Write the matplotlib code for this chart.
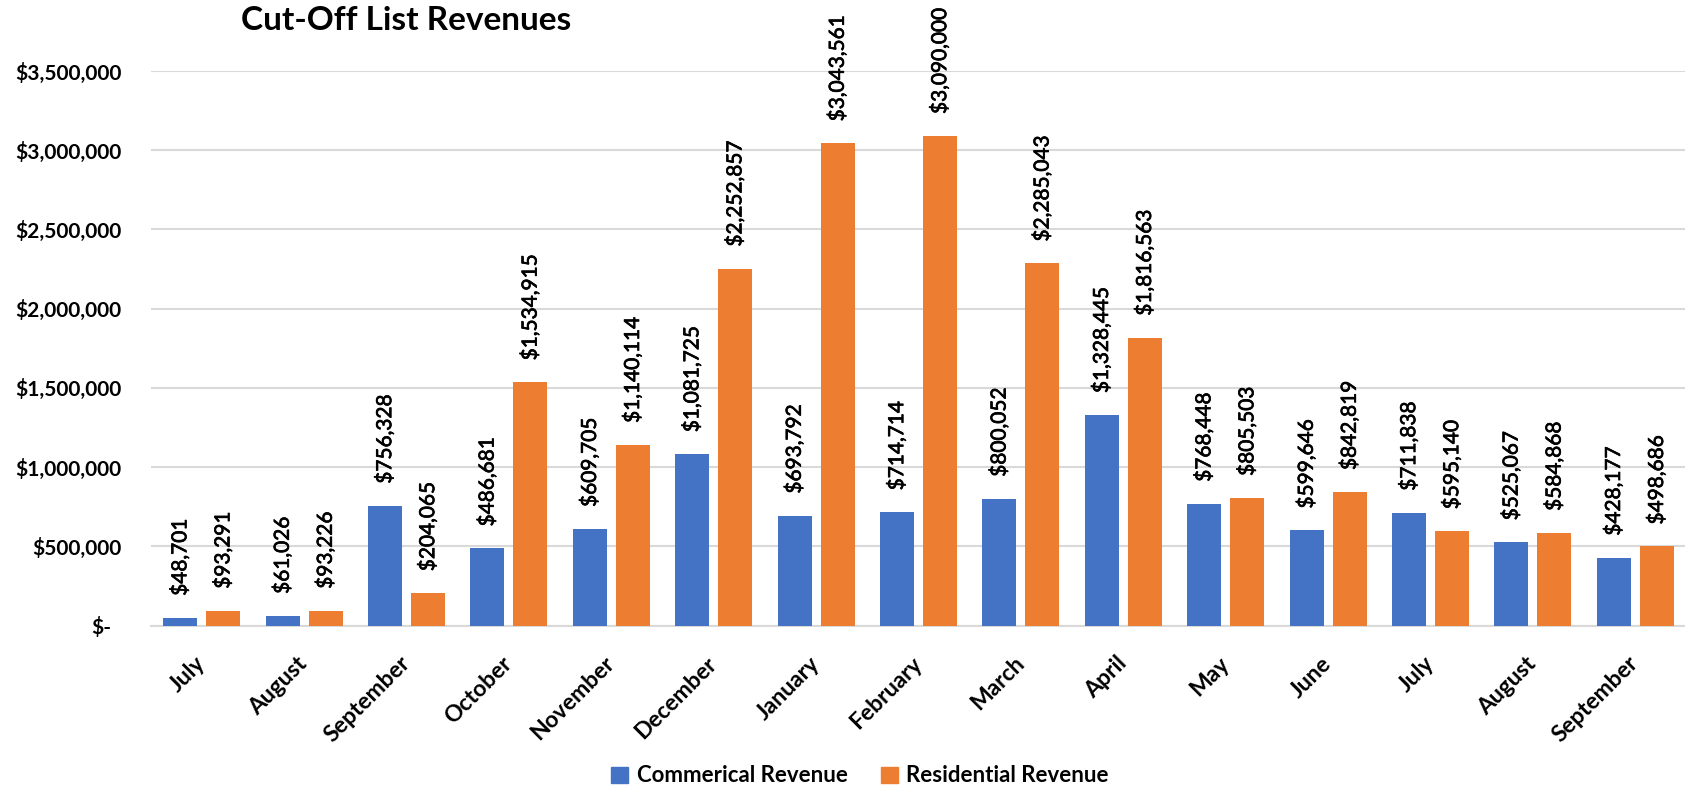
import matplotlib
matplotlib.use("Agg")
import matplotlib.pyplot as plt
import matplotlib.patheffects as pe
import numpy as np
from matplotlib.transforms import ScaledTranslation
from matplotlib.patches import Patch

plt.rcParams['font.family'] = ['Lato', 'DejaVu Sans']

months = ["July", "August", "September", "October", "November", "December",
          "January", "February", "March", "April", "May", "June",
          "July", "August", "September"]
commercial = [48701, 61026, 756328, 486681, 609705, 1081725, 693792, 714714,
              800052, 1328445, 768448, 599646, 711838, 525067, 428177]
residential = [93291, 93226, 204065, 1534915, 1140114, 2252857, 3043561, 3090000,
               2285043, 1816563, 805503, 842819, 595140, 584868, 498686]
y_ticks = [0, 500000, 1000000, 1500000, 2000000, 2500000, 3000000, 3500000]

BLUE = "#4472C4"
ORANGE = "#ED7D31"
GRID = "#D9D9D9"

W, H = 1685, 793
fig = plt.figure(figsize=(W / 100, H / 100), dpi=100)
left, right, top, bottom = 150.5, 1685, 71, 625.5
ax = fig.add_axes([left / W, 1 - bottom / H, (right - left) / W, (bottom - top) / H])

x = np.arange(len(months))
bw = 0.332
off = 0.21
b1 = ax.bar(x - off, commercial, bw, color=BLUE, zorder=3)
b2 = ax.bar(x + off, residential, bw, color=ORANGE, zorder=3)

ax.set_xlim(-0.5, 14.5 - 1.5 / 102.4)
ax.set_ylim(0, 3500000)

# value labels above each bar, running upward
heavier = [pe.withStroke(linewidth=0.5, foreground="black")]
for bars, vals in ((b1, commercial), (b2, residential)):
    for rect, v in zip(bars, vals):
        ax.annotate(f"${v:,.0f}", (rect.get_x() + rect.get_width() / 2, v),
                    xytext=(0, 15.8), textcoords="offset points",
                    rotation=90, ha="center", va="bottom",
                    fontsize=15, color="black", zorder=4,
                    path_effects=heavier)

ax.set_yticks(y_ticks)
ax.set_yticklabels(["$-" if v == 0 else f"${v:,.0f}" for v in y_ticks],
                   fontsize=15, fontweight="bold")
ax.tick_params(axis="y", length=0, pad=20.7)
ylabels = ax.get_yticklabels()
ylabels[0].set_transform(ylabels[0].get_transform()
                         + ScaledTranslation(-0.10, 0, fig.dpi_scale_trans))

ax.set_xticks(x)
ax.set_xticklabels(months, rotation=45, ha="right", va="center",
                   rotation_mode="anchor", fontsize=16.5, fontweight="bold")
ax.tick_params(axis="x", length=0, pad=25)

ax.yaxis.grid(True, color=GRID, linewidth=1.5, zorder=0)
ax.set_axisbelow(True)
for s in ("top", "right", "left"):
    ax.spines[s].set_visible(False)
ax.spines["bottom"].set_color(GRID)
ax.spines["bottom"].set_linewidth(1.5)

fig.text(406 / W, 1 - 20 / H, "Cut-Off List Revenues", ha="center", va="center",
         fontsize=24, fontweight="bold")

handles = [Patch(color=BLUE, label="Commerical Revenue"),
           Patch(color=ORANGE, label="Residential Revenue")]
fig.legend(handles=handles, loc="center", bbox_to_anchor=(860 / W, 1 - 776 / H),
           ncol=2, frameon=False, handlelength=0.75, handleheight=0.75,
           handletextpad=0.4, columnspacing=1.5,
           prop={"size": 16, "weight": "bold"})

fig.savefig("out.png", dpi=100, facecolor="white")
